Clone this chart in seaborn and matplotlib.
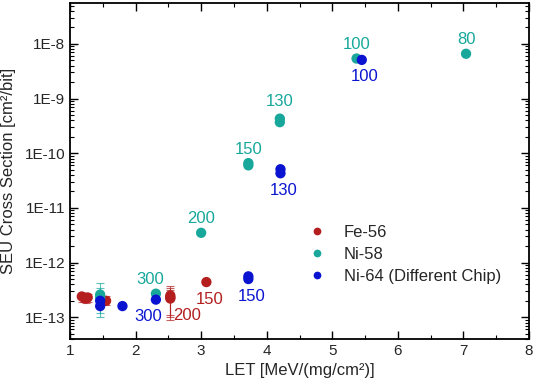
import numpy as np
import pandas as pd
import matplotlib
matplotlib.use("Agg")
import matplotlib.pyplot as plt
import matplotlib.ticker as mticker
import seaborn as sns

# ---------------- data ----------------
series_names = ["Fe-56", "Ni-58", "Ni-64 (Different Chip)"]

fe_let = [1.18, 1.21, 1.24, 1.27, 1.55, 2.53, 2.53, 2.53, 3.08]
fe_xs = [2.4e-13, 2.3e-13, 2.2e-13, 2.3e-13, 2.0e-13, 2.5e-13, 2.3e-13, 2.2e-13, 4.4e-13]
fe_lo = [1.9e-13, 1.9e-13, 1.8e-13, 1.9e-13, 1.7e-13, 1.0e-13, 9.0e-14, 1.1e-13, 4.4e-13]
fe_hi = [2.8e-13, 2.7e-13, 2.6e-13, 2.7e-13, 2.4e-13, 3.8e-13, 3.5e-13, 3.2e-13, 4.4e-13]

ni58_let = [1.46, 1.46, 2.31, 3.00, 3.72, 3.72, 4.20, 4.20, 5.37, 7.04]
ni58_xs = [2.6e-13, 2.3e-13, 2.7e-13, 3.5e-12, 6.6e-11, 6.0e-11, 4.3e-10, 3.7e-10, 5.4e-9, 6.6e-9]
ni58_lo = [1.0e-13, 1.2e-13, 2.7e-13, 3.5e-12, 6.6e-11, 6.0e-11, 4.3e-10, 3.7e-10, 5.4e-9, 6.6e-9]
ni58_hi = [4.2e-13, 3.4e-13, 2.7e-13, 3.5e-12, 6.6e-11, 6.0e-11, 4.3e-10, 3.7e-10, 5.4e-9, 6.6e-9]

ni64_let = [1.46, 1.46, 1.80, 2.31, 3.72, 3.72, 4.21, 4.21, 5.45]
ni64_xs = [2.0e-13, 1.6e-13, 1.6e-13, 2.1e-13, 5.6e-13, 5.0e-13, 5.1e-11, 4.3e-11, 5.1e-9]

# point labels: (series, LET, cross section, text)
label_series = ["Ni-58", "Ni-58", "Ni-58", "Ni-58", "Ni-58", "Ni-58",
                "Ni-64 (Different Chip)", "Ni-64 (Different Chip)",
                "Ni-64 (Different Chip)", "Ni-64 (Different Chip)",
                "Fe-56", "Fe-56"]
label_let = [7.04, 5.37, 4.20, 3.72, 3.00, 2.31, 5.45, 4.21, 3.72, 2.31, 3.08, 2.53]
label_xs = [6.6e-9, 5.4e-9, 4.3e-10, 6.6e-11, 3.5e-12, 2.7e-13,
            5.1e-9, 4.3e-11, 5.0e-13, 2.1e-13, 4.4e-13, 2.2e-13]
label_text = ["80", "100", "130", "150", "200", "300",
              "100", "130", "150", "300", "150", "200"]

colors = {"Fe-56": "#B41E1E", "Ni-58": "#17A89B", "Ni-64 (Different Chip)": "#0A14D0"}

df = pd.DataFrame({
    "LET": fe_let + ni58_let + ni64_let,
    "XS": fe_xs + ni58_xs + ni64_xs,
    "Ion": [series_names[0]] * len(fe_let) + [series_names[1]] * len(ni58_let)
           + [series_names[2]] * len(ni64_let),
})

# ---------------- plot ----------------
sns.set_style("ticks")
plt.rcParams["font.family"] = ["Liberation Sans", "DejaVu Sans"]

fig = plt.figure(figsize=(5.36, 3.89), dpi=100)
ax = fig.add_axes([70 / 536, 50 / 389, 459 / 536, 336 / 389])

# error bars
for xs_, ys_, lo_, hi_, c in [(fe_let, fe_xs, fe_lo, fe_hi, colors["Fe-56"]),
                              (ni58_let, ni58_xs, ni58_lo, ni58_hi, colors["Ni-58"])]:
    ys_a = np.array(ys_)
    yerr = np.vstack([ys_a - np.array(lo_), np.array(hi_) - ys_a])
    ax.errorbar(xs_, ys_a, yerr=yerr, fmt="none", ecolor=c, elinewidth=0.8,
                capsize=3, capthick=0.8, alpha=0.7, zorder=1)

sns.scatterplot(data=df, x="LET", y="XS", hue="Ion", hue_order=series_names,
                palette=colors, s=55, edgecolor="none", linewidth=0, ax=ax, zorder=3)

ax.set_yscale("log")
ax.set_xlim(1, 8)
ax.set_ylim(4e-14, 5.6e-8)

# labels
offsets = {"Ni-58": (0, 14), "Ni-64 (Different Chip)": (3, -17), "Fe-56": (3, -17)}
for s, lx, ly, t in zip(label_series, label_let, label_xs, label_text):
    dx, dy = offsets[s]
    if s == "Ni-58" and t == "300":
        dx = -6
    if s == "Ni-58" and t == "130":
        dy = 17
    if s == "Ni-64 (Different Chip)" and t == "300":
        dx = -8
    if s == "Fe-56" and t == "200":
        dx = 17
    ax.annotate(t, (lx, ly), xytext=(dx, dy), textcoords="offset pixels",
                ha="center", va="center", color=colors[s], fontsize=12, zorder=4)

ax.set_xlabel("LET [MeV/(mg/cm²)]", fontsize=12, labelpad=4)
ax.set_ylabel("SEU Cross Section [cm²/bit]", fontsize=12, labelpad=6)

ax.xaxis.set_major_locator(mticker.MultipleLocator(1))
ax.xaxis.set_minor_locator(mticker.MultipleLocator(0.5))
ax.yaxis.set_major_locator(mticker.LogLocator(base=10, numticks=20))
ax.yaxis.set_minor_locator(mticker.LogLocator(base=10, subs=np.arange(2, 10), numticks=20))
ax.yaxis.set_major_formatter(mticker.FuncFormatter(lambda v, p: f"1E{int(round(np.log10(v)))}"))
ax.yaxis.set_minor_formatter(mticker.NullFormatter())

ax.tick_params(which="both", direction="in", top=True, right=True, color="black")
ax.tick_params(which="major", length=6, width=1.0, labelsize=11)
ax.tick_params(which="minor", length=3, width=0.8)
for sp in ax.spines.values():
    sp.set_linewidth(1.3)
    sp.set_color("black")

leg = ax.legend(loc="upper left", bbox_to_anchor=(0.47, 0.385), frameon=False,
                fontsize=12, handletextpad=0.6, labelspacing=0.42, markerscale=0.75)
ax.grid(False)

fig.savefig("out.png", dpi=100)
